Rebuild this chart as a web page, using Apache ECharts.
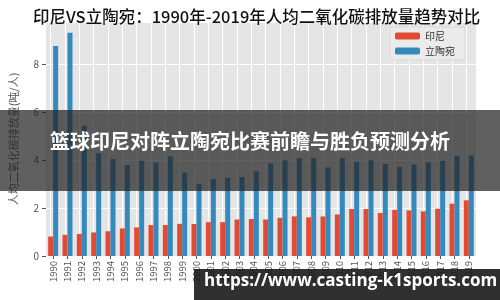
<!DOCTYPE html>
<html>
<head>
<meta charset="utf-8">
<script src="https://cdn.jsdelivr.net/npm/echarts@6/dist/echarts.min.js"></script>
<style>
  html, body { margin: 0; padding: 0; background: #fff; }
  #main { width: 500px; height: 300px; }
</style>
</head>
<body>
<div id="main"></div>
<script>
// 年份
var years = ['1990','1991','1992','1993','1994','1995','1996','1997','1998','1999',
    '2000','2001','2002','2003','2004','2005','2006','2007','2008','2009',
    '2010','2011','2012','2013','2014','2015','2016','2017','2018','2019'];
// 印尼 人均排放
var indonesia = [0.81,0.88,0.92,0.98,1.03,1.15,1.19,1.29,1.29,1.34,
    1.33,1.41,1.41,1.52,1.54,1.52,1.59,1.65,1.61,1.65,
    1.73,1.96,1.96,1.79,1.92,1.90,1.86,1.97,2.18,2.32];
// 立陶宛 人均排放
var lithuania = [8.75,9.30,5.43,4.28,4.04,3.79,3.97,3.89,4.15,3.47,
    3.01,3.21,3.26,3.29,3.53,3.86,3.99,4.08,4.08,3.69,
    4.08,3.92,3.99,3.83,3.71,3.81,3.90,3.97,4.17,4.19];
var yTicks = [0, 2, 4, 6, 8];

var font = '"Noto Sans CJK SC", "DejaVu Sans", sans-serif';

var myChart = echarts.init(document.getElementById('main'));
var option = {
    animation: false,
    backgroundColor: '#ffffff',
    title: {
        text: '印尼VS立陶宛：1990年-2019年人均二氧化碳排放量趋势对比',
        left: 28,
        top: 3,
        textStyle: { fontFamily: font, fontSize: 16.5, fontWeight: 500, color: '#111' }
    },
    legend: {
        data: ['印尼', '立陶宛'],
        orient: 'vertical',
        left: 390,
        top: 27,
        itemWidth: 25,
        itemHeight: 7,
        itemGap: 5,
        padding: [4, 10, 4, 5],
        backgroundColor: '#ebebeb',
        borderColor: '#dadada',
        borderWidth: 1,
        textStyle: { fontFamily: font, fontSize: 10, color: '#333' }
    },
    grid: {
        left: 43, right: 24, top: 22, bottom: 44,
        show: true,
        backgroundColor: '#e5e5e5',
        borderWidth: 0
    },
    xAxis: {
        type: 'category',
        data: years,
        axisLine: { show: false },
        axisTick: { show: true, alignWithLabel: true, length: 3, lineStyle: { color: '#555' } },
        axisLabel: { rotate: 90, fontFamily: font, fontSize: 9.5, color: '#555', margin: 5 },
        splitLine: { show: false }
    },
    yAxis: {
        type: 'value',
        min: 0,
        max: 9.75,
        interval: 2,
        name: '人均二氧化碳排放量(吨/人)',
        nameLocation: 'middle',
        nameGap: 27,
        nameTextStyle: { fontFamily: font, fontSize: 11, color: '#555' },
        axisLine: { show: false },
        axisTick: { show: true, length: 4, lineStyle: { color: '#555' } },
        axisLabel: {
            fontFamily: font, fontSize: 10, color: '#555', margin: 7,
            formatter: function (v) { return yTicks.indexOf(v) >= 0 ? String(v) : ''; }
        },
        splitLine: { show: true, lineStyle: { color: '#ffffff', width: 1 } }
    },
    series: [{
        name: '印尼',
        type: 'bar',
        data: indonesia,
        barWidth: 5,
        barGap: '0%',
        itemStyle: { color: '#E24A33' },
        // 竖向网格线(对齐类目中心)
        markLine: {
            silent: true,
            symbol: 'none',
            z: 1,
            label: { show: false },
            lineStyle: { color: '#ffffff', type: 'solid', width: 1 },
            data: years.map(function (y) { return { xAxis: y }; })
        }
    }, {
        name: '立陶宛',
        type: 'bar',
        data: lithuania,
        barWidth: 5,
        itemStyle: { color: '#348ABD' }
    }],
    graphic: [{
        type: 'rect',
        left: 0, top: 110,
        shape: { width: 500, height: 81 },
        style: { fill: 'rgba(35,35,35,0.72)' },
        z: 100
    }, {
        type: 'text',
        x: 250, y: 141,
        style: {
            text: '篮球印尼对阵立陶宛比赛前瞻与胜负预测分析',
            fill: '#ffffff',
            align: 'center',
            verticalAlign: 'middle',
            font: 'bold 20px "Noto Sans CJK SC", sans-serif'
        },
        z: 101
    }, {
        type: 'rect',
        left: 194, top: 269,
        shape: { width: 306, height: 31 },
        style: { fill: 'rgba(25,25,25,0.9)' },
        z: 100
    }, {
        type: 'text',
        left: 204, top: 273,
        style: {
            text: 'https://www.casting-k1sports.com',
            fill: '#ffffff',
            font: 'bold 17px "Open Sans", "DejaVu Sans", sans-serif'
        },
        z: 101
    }]
};
myChart.setOption(option);
</script>
</body>
</html>
